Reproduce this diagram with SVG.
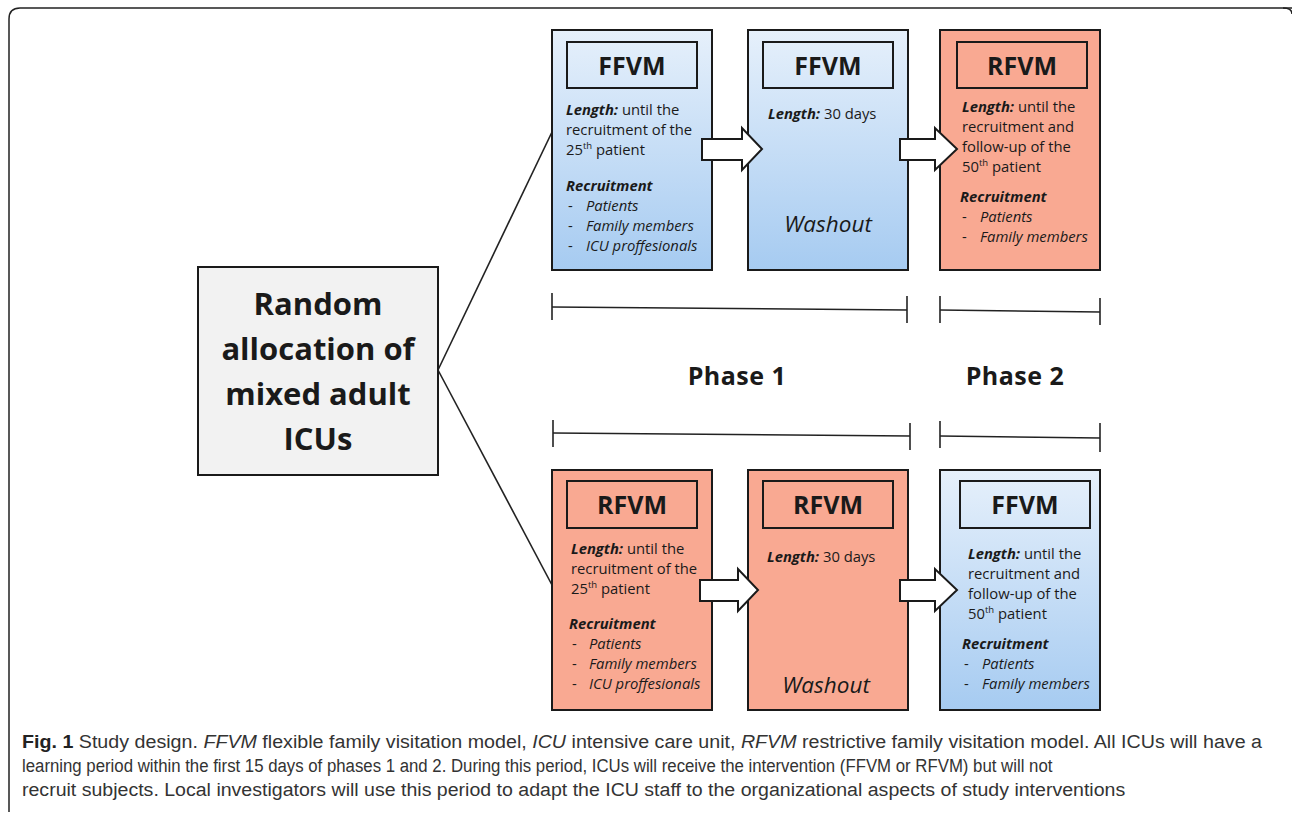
<svg xmlns="http://www.w3.org/2000/svg" width="1292" height="820" viewBox="0 0 1292 820">
<defs>
<linearGradient id="blue" x1="0" y1="0" x2="0" y2="1">
<stop offset="0" stop-color="#e6f0fb"/>
<stop offset="1" stop-color="#a6cbf1"/>
</linearGradient>
<style>
.card{stroke:#1a1a1a;stroke-width:2}
.blue{fill:url(#blue)}
.red{fill:#f9a992}
.title{fill:none;stroke:#1a1a1a;stroke-width:2}
.tt{font-family:"Open Sans","Liberation Sans",sans-serif;font-weight:bold;font-size:25px;fill:#1a1a1a;text-anchor:middle}
.t{font-family:"Open Sans","Liberation Sans",sans-serif;font-size:14.8px;fill:#1a1a1a}
.b{font-weight:bold;font-style:italic}
.i{font-style:italic}
.wash{font-family:"Open Sans","Liberation Sans",sans-serif;font-style:italic;font-size:22.5px;fill:#1a1a1a;text-anchor:middle}
.big{font-family:"Open Sans","Liberation Sans",sans-serif;font-weight:bold;font-size:31px;fill:#1a1a1a;text-anchor:middle}
.ph{font-family:"Open Sans","Liberation Sans",sans-serif;font-weight:bold;font-size:25px;letter-spacing:0.5px;fill:#1a1a1a;text-anchor:middle}
.ln{stroke:#222;stroke-width:1.6;fill:none}
.arrow{fill:#fff;stroke:#1a1a1a;stroke-width:2;stroke-linejoin:miter}
.cap{font-family:"Liberation Sans",sans-serif;font-size:19px;fill:#333}
</style>
</defs>
<rect width="1292" height="820" fill="#fff"/>
<path d="M1296 8 H20 Q9 8 9 19 V812" fill="none" stroke="#222" stroke-width="1.5"/>
<path d="M1283 8 Q1292 8 1292 14" fill="none" stroke="#222" stroke-width="1.5"/>

<g id="connectors">
<line class="ln" x1="438" y1="370" x2="552" y2="132"/>
<line class="ln" x1="438" y1="370" x2="552" y2="585"/>
<g id="timeline-top">
<line class="ln" x1="552" y1="307" x2="907" y2="310"/>
<line class="ln" x1="552" y1="293" x2="552" y2="320"/>
<line class="ln" x1="907" y1="296" x2="907" y2="323"/>
<line class="ln" x1="940" y1="310" x2="1100" y2="312"/>
<line class="ln" x1="940" y1="296" x2="940" y2="323"/>
<line class="ln" x1="1100" y1="298" x2="1100" y2="325"/>
</g>
<g id="timeline-bottom">
<line class="ln" x1="553" y1="433" x2="910" y2="436"/>
<line class="ln" x1="553" y1="420" x2="553" y2="447"/>
<line class="ln" x1="910" y1="423" x2="910" y2="450"/>
<line class="ln" x1="940" y1="436" x2="1100" y2="438"/>
<line class="ln" x1="940" y1="421" x2="940" y2="448"/>
<line class="ln" x1="1100" y1="423" x2="1100" y2="452"/>
</g>
</g>

<g id="random">
<rect x="198" y="267" width="240" height="208" fill="#f2f2f2" class="card"/>
<text class="big" x="318" y="315">Random</text>
<text class="big" x="318" y="360">allocation of</text>
<text class="big" x="318" y="405">mixed adult</text>
<text class="big" x="318" y="450">ICUs</text>
</g>

<g id="top-ffvm-1">
<rect x="552" y="30" width="160" height="240" class="card blue"/>
<rect x="567" y="42" width="130" height="46" class="title"/>
<text class="tt" x="632" y="75">FFVM</text>
<text class="t" x="566" y="115"><tspan class="b">Length:</tspan> until the</text>
<text class="t" x="566" y="135">recruitment of the</text>
<text class="t" x="566" y="155">25<tspan font-size="9.5" dy="-6">th</tspan><tspan dy="6"> patient</tspan></text>
<text class="t b" x="566" y="191">Recruitment</text>
<text class="t" x="568" y="211">-</text><text class="t i" x="586" y="211">Patients</text>
<text class="t" x="568" y="231">-</text><text class="t i" x="586" y="231">Family members</text>
<text class="t" x="568" y="251">-</text><text class="t i" x="586" y="251">ICU proffesionals</text>
</g>

<g id="top-ffvm-2">
<rect x="748" y="30" width="160" height="240" class="card blue"/>
<rect x="763" y="42" width="130" height="46" class="title"/>
<text class="tt" x="828" y="75">FFVM</text>
<text class="t" x="768" y="119"><tspan class="b">Length:</tspan> 30 days</text>
<text class="wash" x="828" y="232">Washout</text>
</g>

<g id="top-rfvm">
<rect x="940" y="30" width="160" height="240" class="card red"/>
<rect x="957" y="42" width="130" height="46" class="title"/>
<text class="tt" x="1022" y="75">RFVM</text>
<text class="t" x="962" y="112"><tspan class="b">Length:</tspan> until the</text>
<text class="t" x="962" y="132">recruitment and</text>
<text class="t" x="962" y="152">follow-up of the</text>
<text class="t" x="962" y="172">50<tspan font-size="9.5" dy="-6">th</tspan><tspan dy="6"> patient</tspan></text>
<text class="t b" x="960" y="202">Recruitment</text>
<text class="t" x="962" y="222">-</text><text class="t i" x="980" y="222">Patients</text>
<text class="t" x="962" y="242">-</text><text class="t i" x="980" y="242">Family members</text>
</g>

<g id="bottom-rfvm-1">
<rect x="552" y="470" width="160" height="240" class="card red"/>
<rect x="567" y="481" width="130" height="47" class="title"/>
<text class="tt" x="632" y="514">RFVM</text>
<text class="t" x="571" y="554"><tspan class="b">Length:</tspan> until the</text>
<text class="t" x="571" y="574">recruitment of the</text>
<text class="t" x="571" y="594">25<tspan font-size="9.5" dy="-6">th</tspan><tspan dy="6"> patient</tspan></text>
<text class="t b" x="569" y="629">Recruitment</text>
<text class="t" x="572" y="649">-</text><text class="t i" x="589" y="649">Patients</text>
<text class="t" x="572" y="669">-</text><text class="t i" x="589" y="669">Family members</text>
<text class="t" x="572" y="689">-</text><text class="t i" x="589" y="689">ICU proffesionals</text>
</g>

<g id="bottom-rfvm-2">
<rect x="748" y="470" width="160" height="240" class="card red"/>
<rect x="763" y="481" width="130" height="47" class="title"/>
<text class="tt" x="828" y="514">RFVM</text>
<text class="t" x="767" y="562"><tspan class="b">Length:</tspan> 30 days</text>
<text class="wash" x="826" y="693">Washout</text>
</g>

<g id="bottom-ffvm">
<rect x="940" y="470" width="160" height="240" class="card blue"/>
<rect x="960" y="481" width="130" height="47" class="title"/>
<text class="tt" x="1025" y="514">FFVM</text>
<text class="t" x="968" y="559"><tspan class="b">Length:</tspan> until the</text>
<text class="t" x="968" y="579">recruitment and</text>
<text class="t" x="968" y="599">follow-up of the</text>
<text class="t" x="968" y="619">50<tspan font-size="9.5" dy="-6">th</tspan><tspan dy="6"> patient</tspan></text>
<text class="t b" x="962" y="649">Recruitment</text>
<text class="t" x="964" y="669">-</text><text class="t i" x="982" y="669">Patients</text>
<text class="t" x="964" y="689">-</text><text class="t i" x="982" y="689">Family members</text>
</g>

<g id="arrows">
<path class="arrow" d="M702 139 H742 V128 L762 149 L742 170 V160 H702 Z"/>
<path class="arrow" d="M900 139 H935 V128 L957 149 L935 170 V160 H900 Z"/>
<path class="arrow" d="M700 580 H738 V569 L758 590 L738 611 V601 H700 Z"/>
<path class="arrow" d="M900 580 H935 V569 L957 590 L935 611 V601 H900 Z"/>
</g>

<g id="phases">
<text class="ph" x="737" y="385">Phase 1</text>
<text class="ph" x="1015" y="385">Phase 2</text>
</g>

<g id="caption" transform="scale(0.8,1)">
<text class="cap" x="27.5" y="748" textLength="1550" lengthAdjust="spacingAndGlyphs"><tspan font-weight="bold" fill="#222">Fig. 1</tspan> Study design. <tspan font-style="italic">FFVM</tspan> flexible family visitation model, <tspan font-style="italic">ICU</tspan> intensive care unit, <tspan font-style="italic">RFVM</tspan> restrictive family visitation model. All ICUs will have a</text>
<text class="cap" x="27.5" y="772" textLength="1288" lengthAdjust="spacingAndGlyphs">learning period within the first 15 days of phases 1 and 2. During this period, ICUs will receive the intervention (FFVM or RFVM) but will not</text>
<text class="cap" x="27.5" y="796" textLength="1379" lengthAdjust="spacingAndGlyphs">recruit subjects. Local investigators will use this period to adapt the ICU staff to the organizational aspects of study interventions</text>
</g>
</svg>
